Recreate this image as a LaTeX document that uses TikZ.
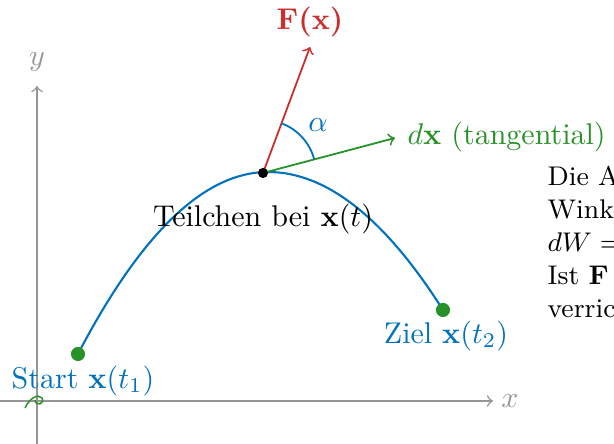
\documentclass[tikz,border=0pt]{standalone}
\usetikzlibrary{calc}
\definecolor{cblue}{RGB}{0,114,189}
\definecolor{cred}{RGB}{204,45,45}
\definecolor{cgreen}{RGB}{40,145,40}
\definecolor{cgray}{RGB}{150,150,150}
\begin{document}
\begin{tikzpicture}[x=0.33333pt,y=-0.33333pt,
  axisline/.style={cgray,line width=0.5pt,->},
  curveline/.style={cblue,line width=0.7pt},
  dotgreen/.style={circle,fill=cgreen,draw=cgreen,inner sep=0pt,minimum size=4.2pt},
  dotblack/.style={circle,fill=black,inner sep=0pt,minimum size=3.4pt},
  vecred/.style={cred,line width=0.6pt,->},
  vecgreen/.style={cgreen,line width=0.6pt,->},
  rtext/.style={anchor=base west,inner sep=0pt,font=\small}]
\useasboundingbox (0,0) rectangle (614,444);
\clip (0,0) rectangle (614,444);
% axes
\coordinate (xs) at (0,401);
\coordinate (xe) at (493,401);
\coordinate (ys) at (37,444);
\coordinate (ye) at (37,86);
\draw[axisline] (xs) -- (xe);
\draw[axisline] (ys) -- (ye);
\node[cgray] (xl) at (510,401) {$x$};
\node[cgray] (yl) at (37,62) {$y$};
% curve
\coordinate (V) at (268,172);
\node[dotgreen] (A) at (78,354) {};
\node[dotgreen] (B) at (443,310) {};
\draw[curveline] (A.center) .. controls (141.3,232.7) and (204.7,172) .. (V) .. controls (326.3,172) and (384.7,218) .. (B.center);
\node[dotgreen] at (A.center) {};
\node[dotgreen] at (B.center) {};
% vectors
\coordinate (P0) at (263,173);
\coordinate (Ft) at (310,47);
\coordinate (dt) at (395,138);
\draw[vecred] (P0) -- (Ft);
\draw[vecgreen] (P0) -- (dt);
\node[dotblack] (P) at (P0) {};
\draw[cblue,line width=0.6pt] ($(P.center)+(-14.85:53)$) arc[start angle=-14.85,end angle=-69.5,radius=53];
\node[cblue] (al) at (318,125) {$\alpha$};
\node[cred] (Fl) at (310,22) {\textbf{F(x)}};
\node[cgreen,anchor=west,inner sep=0pt] (dl) at (407,137) {$d\mathbf{x}$ (tangential)};
% labels
\node (Tl) at (263,219) {Teilchen bei $\mathbf{x}(t)$};
\node[cblue] (Sl) at (83,381) {Start $\mathbf{x}(t_1)$};
\node[cblue] (Zl) at (446,336) {Ziel $\mathbf{x}(t_2)$};
% origin scribble
\draw[cgreen,line width=0.5pt] (25,408) .. controls (29,399) and (38,393) .. (42,398) .. controls (45,404) and (36,407) .. (35,400);
% right text
\node[rtext] (r1) at (547,186) {Die Arbeit h\"angt vom};
\node[rtext] (r2) at (547,219) {Winkel $\alpha$ zwischen $\mathbf{F}$ und $d\mathbf{x}$ ab:};
\node[rtext] (r3) at (547,252) {$dW = \mathbf{F}\cdot d\mathbf{x} = |\mathbf{F}|\,|d\mathbf{x}|\cos\alpha$};
\node[rtext] (r4) at (547,285) {Ist $\mathbf{F}\perp d\mathbf{x}$, wird keine Arbeit};
\node[rtext] (r5) at (547,318) {verrichtet.};
\end{tikzpicture}
\end{document}
